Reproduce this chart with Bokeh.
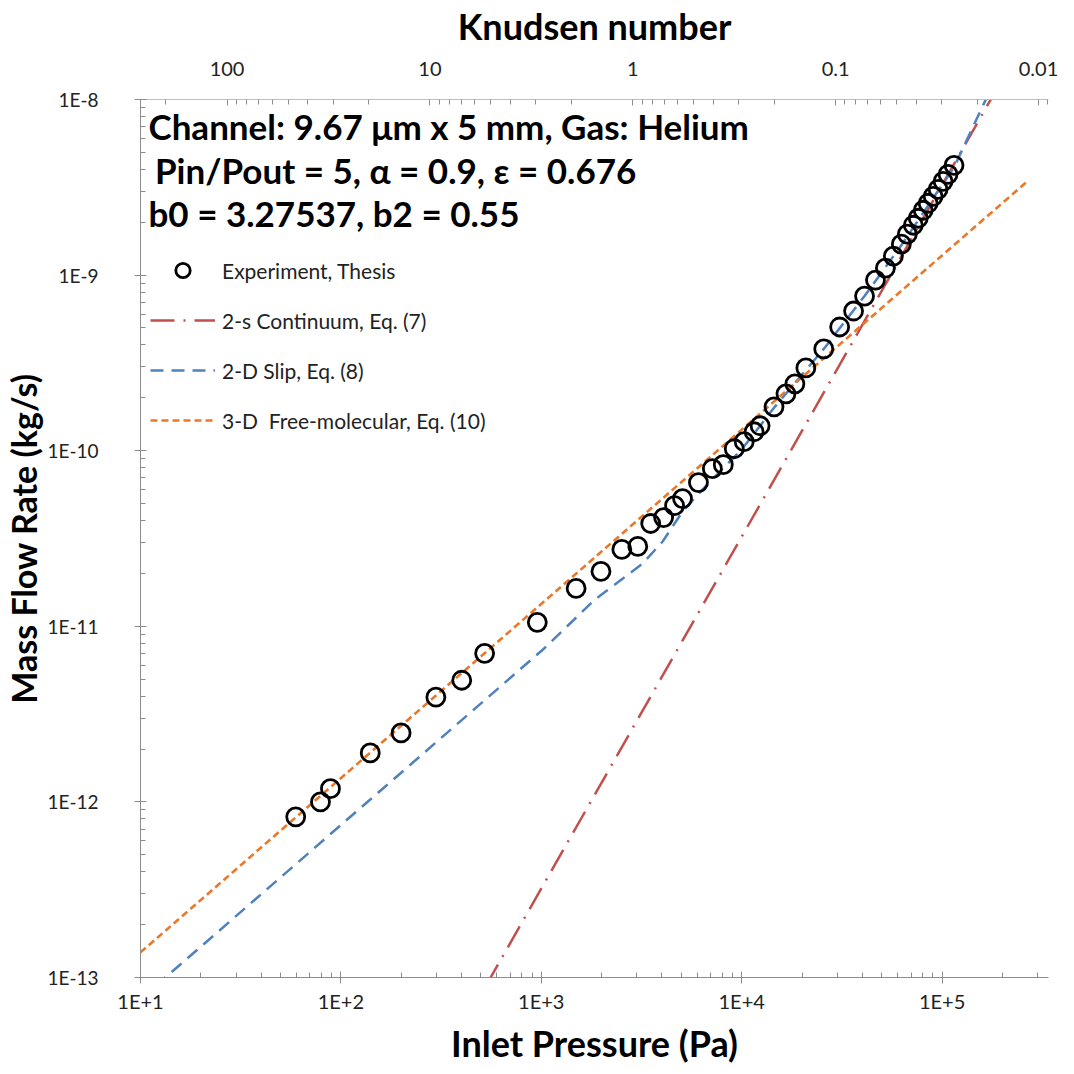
from bokeh.plotting import figure
from bokeh.models import (Range1d, LogScale, LogAxis, Label, Legend, LegendItem,
                          FixedTicker, CustomJSTickFormatter)
from bokeh.embed import file_html
from bokeh.resources import INLINE

# ---------------- data ----------------
exp_pressure = [59.5, 79.1, 88.7, 140.1, 199.7, 297.8, 400.9, 521.4, 955.2, 1492,
                1985, 2523, 3030, 3515, 4077, 4624, 5066, 6083, 7138, 8093,
                9180, 10290, 11534, 12354, 14500, 16630, 18430, 20900, 25670, 30820,
                36160, 41020, 46510, 52130, 57130, 62600, 67050, 71830, 76040, 80500,
                85220, 90220, 95520, 101150, 107100, 114700]
exp_flow = [8.22e-13, 1.00e-12, 1.19e-12, 1.90e-12, 2.47e-12, 3.95e-12, 4.93e-12, 7.02e-12, 1.054e-11, 1.643e-11,
            2.054e-11, 2.74e-11, 2.85e-11, 3.85e-11, 4.16e-11, 4.87e-11, 5.34e-11, 6.58e-11, 7.90e-11, 8.33e-11,
            1.026e-10, 1.125e-10, 1.282e-10, 1.387e-10, 1.778e-10, 2.108e-10, 2.403e-10, 2.962e-10, 3.797e-10, 5.064e-10,
            6.245e-10, 7.599e-10, 9.367e-10, 1.096e-9, 1.282e-9, 1.500e-9, 1.710e-9, 1.923e-9, 2.108e-9, 2.34e-9,
            2.565e-9, 2.811e-9, 3.08e-9, 3.42e-9, 3.75e-9, 4.22e-9]

continuum_pressure = [530, 190000]
continuum_flow = [9.0e-14, 1.18e-8]

slip_pressure = [12.0, 13.3, 1023, 1854, 2101, 3208, 4031, 5066, 6368, 10060,
                 14500, 25670, 41020, 62600, 114700, 165300, 185400]
slip_flow = [8.9e-14, 1.0e-13, 7.40e-12, 1.423e-11, 1.581e-11, 2.28e-11, 3.04e-11, 4.50e-11, 6.0e-11, 1.026e-10,
             1.755e-10, 3.80e-10, 7.60e-10, 1.48e-9, 4.11e-9, 1.0e-8, 1.249e-8]

freemol_pressure = [10, 270200]
freemol_flow = [1.39e-13, 3.47e-9]

x_ticks = [10, 100, 1000, 10000, 100000]
y_ticks = [1e-13, 1e-12, 1e-11, 1e-10, 1e-9, 1e-8]
kn_ticks = [100, 10, 1, 0.1, 0.01]

legend_labels = ["Experiment, Thesis", "2-s Continuum, Eq. (7)",
                 "2-D Slip, Eq. (8)", "3-D  Free-molecular, Eq. (10)"]
note_lines = ["Channel: 9.67 \u03bcm x 5 mm, Gas: Helium",
              " Pin/Pout = 5, \u03b1 = 0.9, \u03b5 = 0.676",
              "b0 = 3.27537, b2 = 0.55"]


def minor_list(lo_exp, hi_exp):
    out = []
    for e in range(lo_exp, hi_exp + 1):
        for k in range(2, 10):
            out.append(k * 10.0 ** e)
    return out


FONT = "Lato"
AXIS_GRAY = "#8c8c8c"

p = figure(width=1074, height=1074, x_axis_type="log", y_axis_type="log",
           x_range=Range1d(10, 339600), y_range=Range1d(1e-13, 1e-8),
           output_backend="svg", toolbar_location=None,
           min_border_left=135, min_border_right=26, min_border_top=97, min_border_bottom=97)
p.outline_line_color = None
p.xgrid.visible = False
p.ygrid.visible = False

p.extra_x_ranges = {"kn": Range1d(267, 0.00893)}
p.extra_x_scales = {"kn": LogScale()}

exp_fmt = CustomJSTickFormatter(code="""
const e = Math.round(Math.log10(tick));
return "1E" + (e >= 0 ? "+" : "-") + Math.abs(e);
""")
kn_fmt = CustomJSTickFormatter(code="""
const e = Math.round(Math.log10(tick));
return e >= 0 ? String(Math.pow(10, e)) : Math.pow(10, e).toFixed(-e);
""")

xa = p.xaxis[0]
xa.ticker = FixedTicker(ticks=x_ticks, minor_ticks=minor_list(1, 5))
xa.formatter = exp_fmt
xa.axis_label = "Inlet Pressure (Pa)"

ya = p.yaxis[0]
ya.ticker = FixedTicker(ticks=y_ticks, minor_ticks=minor_list(-13, -9))
ya.formatter = exp_fmt
ya.axis_label = "Mass Flow Rate (kg/s)"

ta = LogAxis(x_range_name="kn", axis_label="Knudsen number",
             ticker=FixedTicker(ticks=kn_ticks, minor_ticks=minor_list(-3, 2)),
             formatter=kn_fmt)
p.add_layout(ta, "above")

for ax in (xa, ya, ta):
    ax.axis_line_color = AXIS_GRAY
    ax.major_tick_line_color = AXIS_GRAY
    ax.minor_tick_line_color = AXIS_GRAY
    ax.major_label_text_font = FONT
    ax.major_label_text_font_size = "20px"
    ax.major_label_text_color = "#222222"
    ax.axis_label_text_font = FONT
    ax.axis_label_text_font_style = "bold"
    ax.axis_label_text_font_size = "36px"
    ax.axis_label_text_color = "black"
    ax.minor_tick_out = 0
    ax.minor_tick_in = 5

xa.major_tick_in = 6
xa.major_tick_out = 6
xa.major_label_standoff = 5
xa.axis_label_standoff = 5

ya.major_tick_in = 6
ya.major_tick_out = 6
ya.major_label_text_font_size = "19px"
ya.major_label_standoff = 36
ya.axis_label_standoff = 0
ya.axis_label_text_font_size = "34px"

ta.major_tick_in = 6
ta.major_tick_out = 0
ta.major_label_standoff = 24
ta.axis_label_standoff = 11
ta.axis_line_color = "#bfbfbf"

# ---------------- series ----------------
r_cont = p.line(continuum_pressure, continuum_flow, line_color="#C0504D", line_width=2.5,
                line_dash="24 9 2 9")
r_slip = p.line(slip_pressure, slip_flow, line_color="#4F81BD", line_width=2.5,
                line_dash="13 8")
r_fm = p.line(freemol_pressure, freemol_flow, line_color="#E9782A", line_width=2.6,
              line_dash="7 4")
r_exp = p.scatter(exp_pressure, exp_flow, marker="circle", size=18, fill_color=None,
                  line_color="black", line_width=2.8)

legend = Legend(items=[LegendItem(label=legend_labels[0], renderers=[r_exp]),
                       LegendItem(label=legend_labels[1], renderers=[r_cont]),
                       LegendItem(label=legend_labels[2], renderers=[r_slip]),
                       LegendItem(label=legend_labels[3], renderers=[r_fm])],
                location=(10, 539), glyph_width=65, glyph_height=36, label_height=36,
                spacing=14, padding=0, margin=0, border_line_color=None,
                background_fill_alpha=0, label_text_font=FONT,
                label_text_font_size="21px", label_standoff=7, label_text_color="#222222")
p.add_layout(legend)

note_x = [10.96, 11.8, 10.96]
note_y = [7.03e-9, 3.95e-9, 2.25e-9]
for txt, lx, ly in zip(note_lines, note_x, note_y):
    p.add_layout(Label(x=lx, y=ly, text=txt, text_font=FONT, text_font_style="bold",
                       text_font_size="35px", text_baseline="middle", text_color="black"))

open("out.html", "w").write(file_html(p, INLINE))
